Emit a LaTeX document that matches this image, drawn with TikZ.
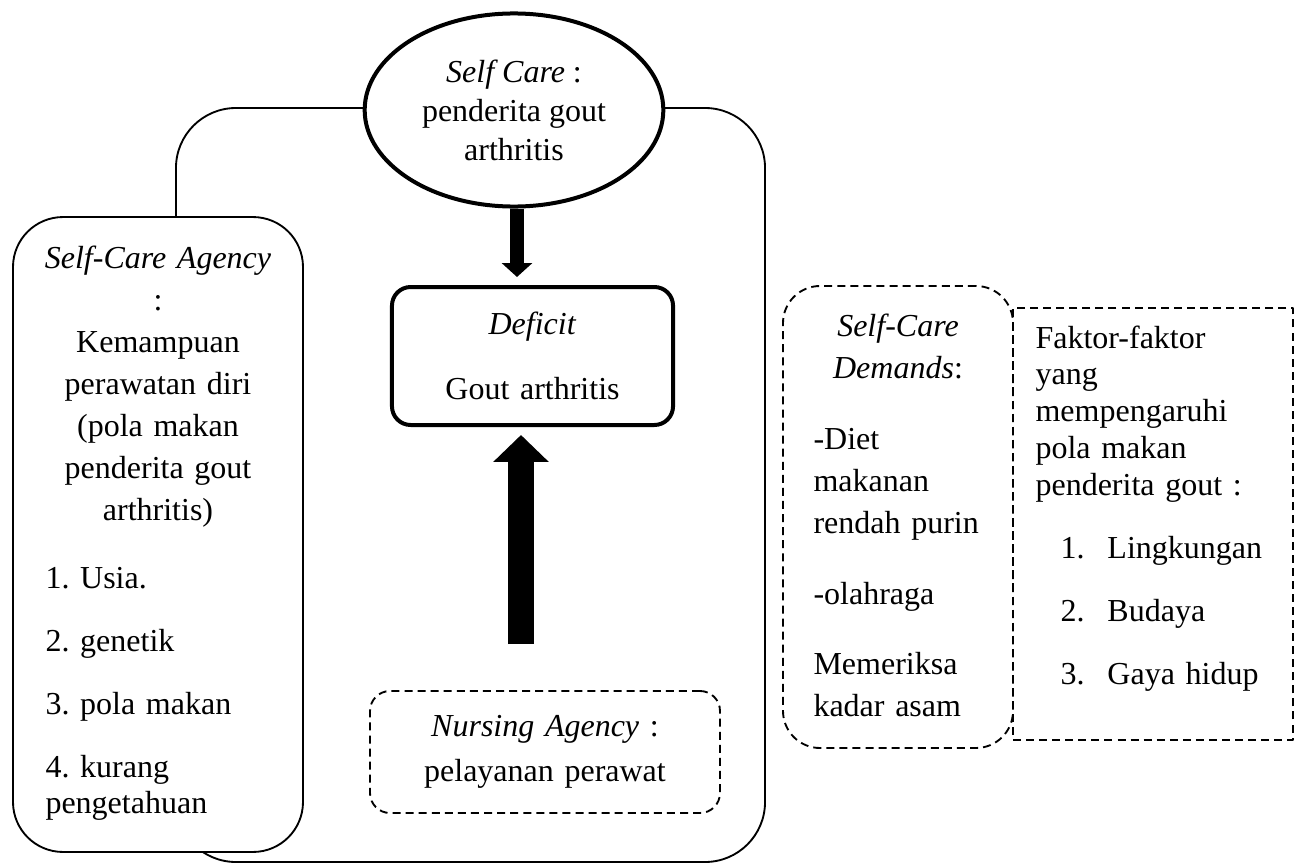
\documentclass[tikz,border=0pt]{standalone}
\usepackage{fontspec}
\setmainfont{Liberation Serif}
\usetikzlibrary{arrows.meta, shapes.geometric}

\tikzset{
  solidbox/.style={draw, line width=0.7pt, fill=white, rounded corners=18.75pt},
  boldbox/.style={draw, line width=1.5pt, fill=white, rounded corners=7pt},
  dashbox/.style={draw, line width=0.7pt, dash pattern=on 3pt off 1.9pt},
  headtext/.style={anchor=base, align=center},
  listtext/.style={anchor=base west, align=left},
}

\begin{document}
\begin{tikzpicture}[x=0.375pt, y=-0.375pt, line join=round,
    every node/.style={inner sep=0pt, font=\fontsize{12pt}{15.75pt}\selectfont\frenchspacing}]
  \useasboundingbox (0,0) rectangle (1300,867);

  % frame behind the ellipse and the left box
  \node[solidbox, fill=none, rounded corners=22.5pt, minimum width=220.9pt, minimum height=282.75pt] (frame) at (470.5,485) {};

  % self care agency
  \node[solidbox, minimum width=108.75pt, minimum height=238.1pt] (agency) at (158,534.5) {};
  \node[headtext, text width=90pt] (agencyhead) at (158,268)
    {\textit{Self-Care Agency}\\:\\Kemampuan\\perawatan diri\\(pola makan\\penderita gout\\arthritis)};
  \node[listtext, text width=93.75pt] (agencylist) at (45,588)
    {1. Usia.\\[7.9pt]2. genetik\\[7.9pt]3. pola makan\\[7.9pt]4. kurang\\[-2.2pt]pengetahuan};

  \node[draw, ellipse, line width=1.5pt, fill=white, minimum width=112pt, minimum height=72.4pt,
    align=center, font=\fontsize{12pt}{14.6pt}\selectfont\frenchspacing] (selfcare) at (514,110)
    {\textit{Self Care} :\\penderita gout\\arthritis};

  \node[boldbox, minimum width=105.4pt, minimum height=51.75pt, text width=75pt, align=center] (deficit) at (532.5,356)
    {\textit{Deficit}\\[8.6pt]Gout arthritis};

  \node[dashbox, rounded corners=7.5pt, minimum width=131.25pt, minimum height=45.75pt, text width=110pt, align=center] (nursing) at (545,752)
    {\textit{Nursing Agency} :\\[1.1pt]pelayanan perawat};

  % demands and factors
  \node[dashbox, rounded corners=13.9pt, minimum width=86.25pt, minimum height=173.25pt] (demands) at (898,517) {};
  \node[headtext, text width=75pt] (demandshead) at (898,336) {\textit{Self-Care}\\\textit{Demands}:};
  \node[listtext, text width=71.25pt] (demandslist) at (813,449)
    {-Diet\\makanan\\rendah purin\\[10.9pt]-olahraga\\[10.5pt]Memeriksa\\kadar asam};

  \node[dashbox, minimum width=105pt, minimum height=162pt] (faktor) at (1153,524) {};
  \node[listtext, text width=93.75pt, font=\fontsize{12pt}{13.8pt}\selectfont] (faktorhead) at (1035,348)
    {Faktor-faktor\\yang\\mempengaruhi\\pola makan\\penderita gout :};
  \node[listtext, text width=82.5pt] (faktorlist) at (1060,558)
    {1.\hspace{8.6pt}Lingkungan\\[8pt]2.\hspace{8.6pt}Budaya\\[8pt]3.\hspace{8.6pt}Gaya hidup};

  % arrows
  \coordinate (downx) at (517,0);
  \draw[line width=4.9pt, -{Triangle[width=11.25pt,length=5.25pt]}, shorten >=3pt]
    (selfcare.south -| downx) -- (deficit.north -| downx);
  \coordinate (upstart) at (521,644);
  \draw[line width=9.75pt, -{Triangle[width=20.25pt,length=10.1pt]}, shorten >=3pt]
    (upstart) -- (upstart |- deficit.south);
\end{tikzpicture}
\end{document}
